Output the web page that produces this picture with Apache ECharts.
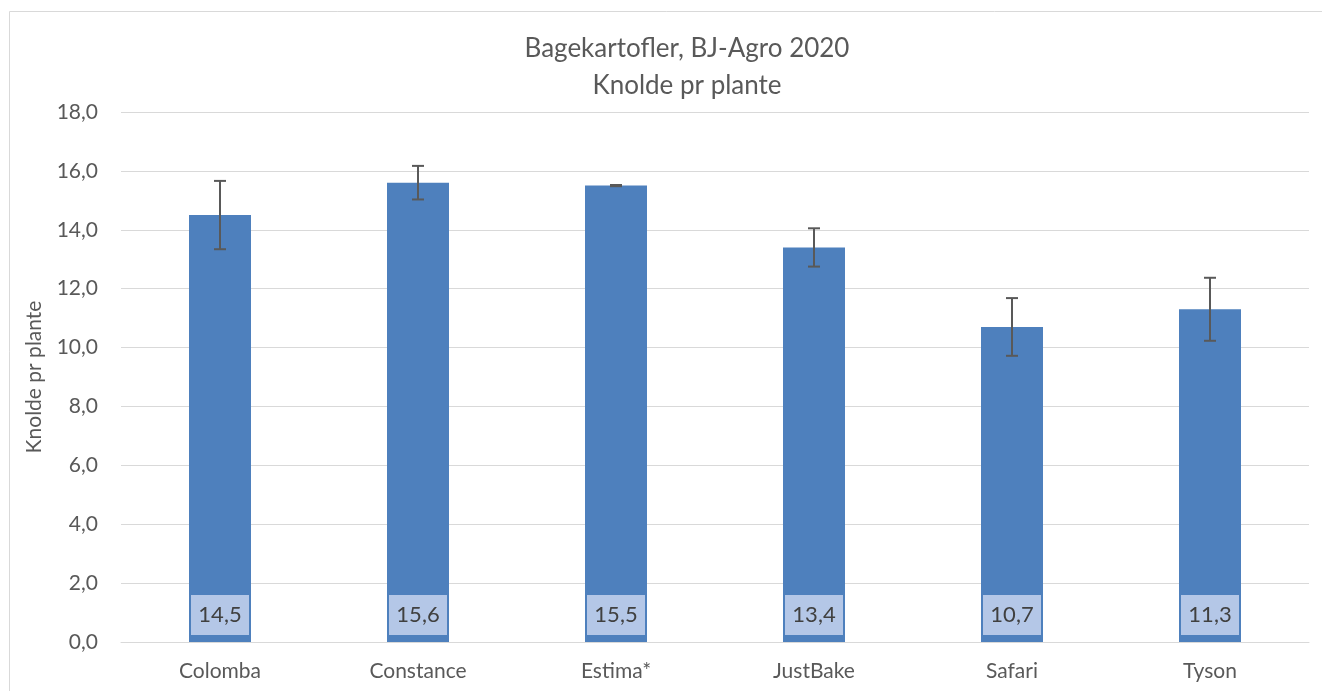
<!DOCTYPE html>
<html>
<head>
<meta charset="utf-8">
<script src="https://cdn.jsdelivr.net/npm/echarts@6/dist/echarts.min.js"></script>
<style>
  html, body { margin: 0; padding: 0; background: #fff; }
  #chart { width: 1322px; height: 691px; }
</style>
</head>
<body>
<div id="chart"></div>
<script>
// sorter og målte værdier
const sorter = ['Colomba', 'Constance', 'Estima*', 'JustBake', 'Safari', 'Tyson']
const knolde = [14.5, 15.6, 15.5, 13.4, 10.7, 11.3]
const fejl = [1.16, 0.57, 0.02, 0.65, 0.98, 1.07]
const yTicks = [0, 2, 4, 6, 8, 10, 12, 14, 16, 18]

const fmt = v => v.toFixed(1).replace('.', ',')
const font = 'Lato, "Noto Sans", sans-serif'

const chart = echarts.init(document.getElementById('chart'))
chart.setOption({
    textStyle: { fontFamily: font },
    title: {
        text: 'Bagekartofler, BJ-Agro 2020\nKnolde pr plante',
        left: 682,
        textAlign: 'center',
        top: 25,
        textStyle: { fontSize: 26, fontWeight: 'normal', color: '#595959', lineHeight: 37, fontFamily: font }
    },
    graphic: [{
        type: 'rect',
        shape: { x: 9.5, y: 11.5, width: 1340, height: 700 },
        style: { fill: 'none', stroke: '#d9d9d9', lineWidth: 1 },
        silent: true
    }],
    grid: { left: 121, right: 13, top: 112, bottom: 49 },
    xAxis: {
        type: 'category',
        data: sorter,
        axisLine: { lineStyle: { color: '#d9d9d9', width: 1 } },
        axisTick: { show: false },
        axisLabel: { fontSize: 21, color: '#595959', margin: 19 }
    },
    yAxis: {
        type: 'value',
        min: yTicks[0],
        max: yTicks[yTicks.length - 1],
        interval: 2,
        name: 'Knolde pr plante',
        nameLocation: 'middle',
        nameGap: 76,
        nameTextStyle: { fontSize: 21, color: '#595959' },
        axisLine: { show: false },
        axisTick: { show: false },
        splitLine: { lineStyle: { color: '#d9d9d9', width: 1 } },
        axisLabel: { fontSize: 21, color: '#595959', margin: 23, formatter: v => fmt(v) }
    },
    series: [
        {
            type: 'bar',
            data: knolde,
            barWidth: 62,
            itemStyle: { color: '#4e80bd' },
            label: {
                show: true,
                position: 'insideBottom',
                distance: 7,
                formatter: p => fmt(p.value),
                fontSize: 22,
                color: '#404040',
                backgroundColor: '#b4c7e7',
                width: 58,
                height: 40,
                lineHeight: 40,
                align: 'center'
            },
            z: 2
        },
        {
            type: 'custom',
            data: knolde.map((v, i) => [i, v - fejl[i], v + fejl[i]]),
            renderItem: (params, api) => {
                const lo = api.coord([api.value(0), api.value(1)])
                const hi = api.coord([api.value(0), api.value(2)])
                const x = lo[0]
                const hw = 6
                const style = { stroke: '#595959', lineWidth: 2 }
                return {
                    type: 'group',
                    children: [
                        { type: 'line', shape: { x1: x, y1: lo[1], x2: x, y2: hi[1] }, style },
                        { type: 'line', shape: { x1: x - hw, y1: lo[1], x2: x + hw, y2: lo[1] }, style },
                        { type: 'line', shape: { x1: x - hw, y1: hi[1], x2: x + hw, y2: hi[1] }, style }
                    ]
                }
            },
            z: 3
        }
    ]
})
</script>
</body>
</html>
